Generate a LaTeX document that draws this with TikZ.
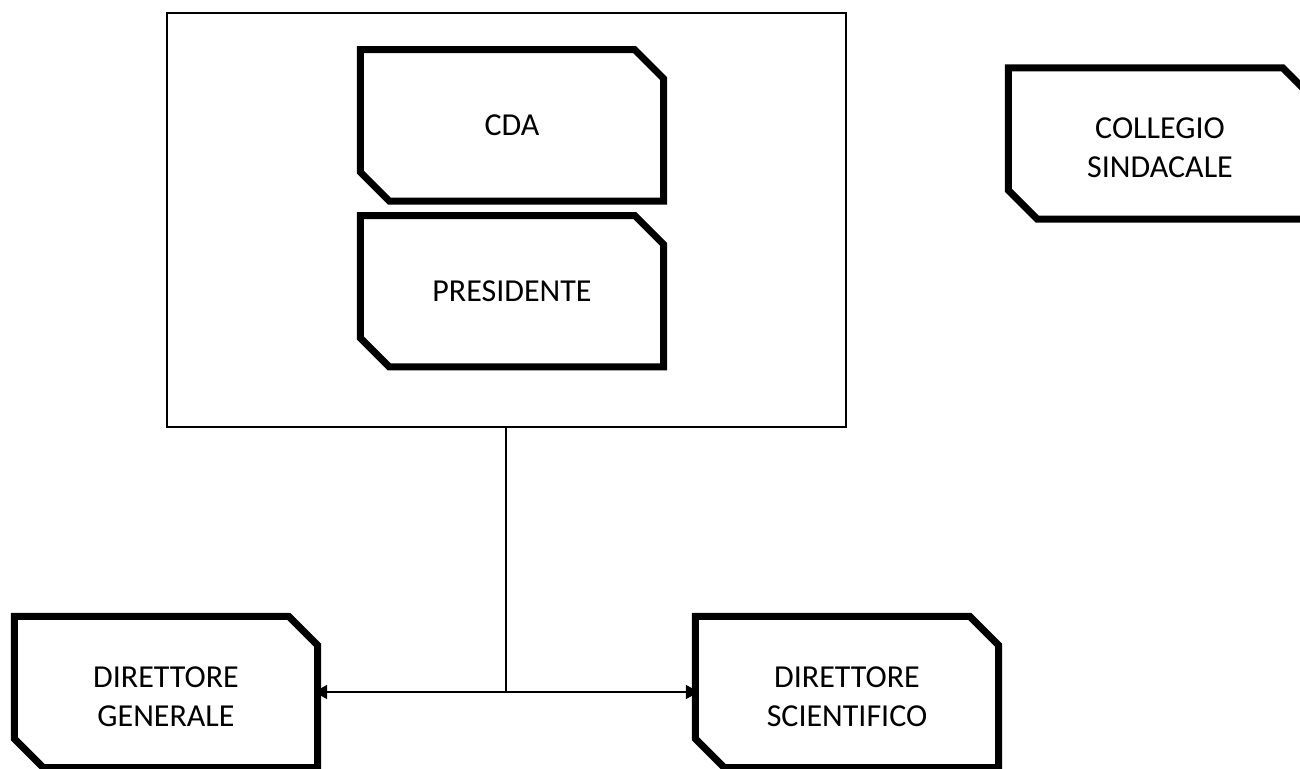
\documentclass[tikz,border=0pt]{standalone}
\usepackage{fontspec}
\setmainfont{Carlito}
\usetikzlibrary{arrows.meta}
\begin{document}
\begin{tikzpicture}[x=1pt,y=-1pt,
  orgbox/.style={minimum width=303pt, minimum height=151pt, inner sep=0pt, align=center,
                 font=\fontsize{32}{39}\selectfont},
  boxtext/.style={align=center, inner sep=0pt, font=\fontsize{32}{39}\selectfont, yshift=-4.5pt},
  boxline/.style={line width=7pt, line join=miter, draw=black},
  link/.style={line width=2pt, draw=black},
  tip/.style={-{Triangle[length=13pt,width=14pt]}}
]
\useasboundingbox (0,0) rectangle (1300,768);
\node[draw=black, line width=2pt, minimum width=679pt, minimum height=414pt, inner sep=0pt] (board) at (506,220) {};
\node[orgbox] (cda)  at (512,125.4) {CDA};
\node[orgbox] (pres) at (512,291.2) {PRESIDENTE};
\node[orgbox, label={[boxtext]center:COLLEGIO\\SINDACALE}] (coll) at (1160,143.5) {};
\node[orgbox, label={[boxtext]center:DIRETTORE\\GENERALE}] (dg) at (166,692) {};
\node[orgbox, label={[boxtext]center:DIRETTORE\\SCIENTIFICO}] (ds) at (847,692) {};
\foreach \n in {cda,pres,coll,dg,ds}
  \draw[boxline] (\n.north west) -- ([xshift=-29pt]\n.north east) -- ([yshift=-29pt]\n.north east)
     -- (\n.south east) -- ([xshift=29pt]\n.south west) -- ([yshift=29pt]\n.south west) -- cycle;
\coordinate (j) at (506,692);
\draw[link] (board.south) -- (j);
\draw[link, tip, shorten >=-3.5pt] (j) -- (dg.east);
\draw[link, tip, shorten >=-3.5pt] (j) -- (ds.west);
\end{tikzpicture}
\end{document}
